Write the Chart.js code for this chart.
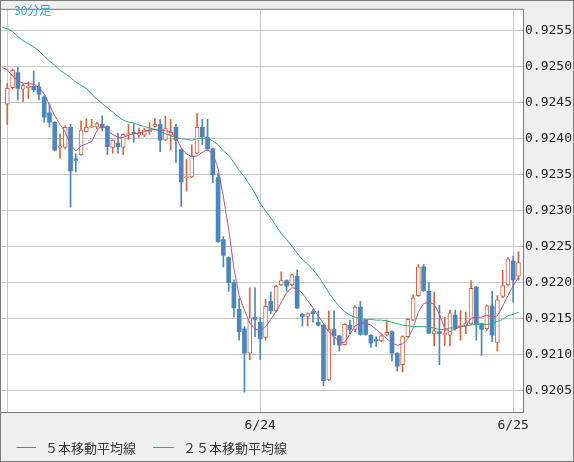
<!DOCTYPE html>
<html><head><meta charset="utf-8">
<script src="https://cdn.jsdelivr.net/npm/chart.js@4"></script>
<style>html,body{margin:0;padding:0;background:#efefef;overflow:hidden}canvas{display:block}</style>
</head><body>
<canvas id="c" width="574" height="462"></canvas>
<script>
// ---- data (30-minute candles, index 0 = 6/23 00:00) ----
const opens = [
0.92448,0.92471,0.92492,0.92469,0.92471,0.92473,0.92472,0.92458,0.92436,0.92423,
0.92388,0.92388,0.92416,0.92372,0.92378,0.92410,0.92416,0.92416,0.92420,0.92417,
0.92388,0.92394,0.92388,0.92405,0.92409,0.92405,0.92405,0.92410,0.92417,0.92420,
0.92398,0.92405,0.92416,0.92385,0.92346,0.92347,0.92380,0.92416,0.92402,0.92386,
0.92346,0.92260,0.92235,0.92200,0.92163,0.92136,0.92102,0.92152,0.92145,0.92124,
0.92174,0.92161,0.92197,0.92203,0.92197,0.92209,0.92156,0.92153,0.92160,0.92145,
0.92141,0.92065,0.92135,0.92126,0.92114,0.92141,0.92135,0.92166,0.92148,0.92127,
0.92121,0.92119,0.92127,0.92132,0.92102,0.92086,0.92125,0.92148,0.92182,0.92222,
0.92188,0.92129,0.92132,0.92128,0.92127,0.92155,0.92139,0.92140,0.92143,0.92194,
0.92143,0.92136,0.92168,0.92117,0.92181,0.92197,0.92230,0.92209];
const highs = [
0.92477,0.92497,0.92499,0.92476,0.92479,0.92494,0.92478,0.92460,0.92449,0.92424,
0.92407,0.92418,0.92420,0.92379,0.92425,0.92428,0.92427,0.92423,0.92432,0.92418,
0.92399,0.92408,0.92407,0.92420,0.92421,0.92415,0.92415,0.92422,0.92428,0.92427,
0.92431,0.92427,0.92420,0.92386,0.92371,0.92392,0.92435,0.92427,0.92427,0.92387,
0.92352,0.92264,0.92236,0.92204,0.92178,0.92139,0.92193,0.92193,0.92152,0.92177,
0.92187,0.92196,0.92215,0.92204,0.92212,0.92218,0.92157,0.92158,0.92163,0.92161,
0.92142,0.92161,0.92161,0.92127,0.92143,0.92148,0.92168,0.92174,0.92149,0.92128,
0.92125,0.92129,0.92148,0.92133,0.92103,0.92126,0.92150,0.92183,0.92225,0.92225,
0.92200,0.92187,0.92169,0.92152,0.92162,0.92162,0.92161,0.92159,0.92203,0.92195,
0.92144,0.92169,0.92188,0.92182,0.92217,0.92235,0.92237,0.92243];
const lows = [
0.92420,0.92469,0.92454,0.92452,0.92456,0.92465,0.92454,0.92423,0.92416,0.92383,
0.92373,0.92386,0.92305,0.92354,0.92377,0.92409,0.92415,0.92414,0.92411,0.92378,
0.92380,0.92380,0.92378,0.92399,0.92395,0.92402,0.92403,0.92406,0.92416,0.92382,
0.92397,0.92384,0.92367,0.92306,0.92327,0.92346,0.92379,0.92392,0.92383,0.92339,
0.92256,0.92222,0.92188,0.92152,0.92120,0.92048,0.92093,0.92125,0.92093,0.92120,
0.92157,0.92159,0.92196,0.92188,0.92195,0.92164,0.92140,0.92140,0.92145,0.92140,
0.92057,0.92064,0.92114,0.92105,0.92113,0.92129,0.92132,0.92127,0.92127,0.92110,
0.92111,0.92118,0.92126,0.92091,0.92077,0.92076,0.92124,0.92147,0.92181,0.92188,
0.92129,0.92112,0.92086,0.92112,0.92112,0.92134,0.92120,0.92129,0.92142,0.92120,
0.92099,0.92134,0.92118,0.92105,0.92179,0.92195,0.92173,0.92204];
const closes = [
0.92470,0.92495,0.92470,0.92474,0.92473,0.92468,0.92462,0.92430,0.92423,0.92384,
0.92389,0.92416,0.92355,0.92370,0.92412,0.92416,0.92418,0.92421,0.92415,0.92389,
0.92398,0.92389,0.92406,0.92407,0.92407,0.92408,0.92412,0.92412,0.92420,0.92398,
0.92414,0.92409,0.92398,0.92340,0.92347,0.92376,0.92416,0.92403,0.92386,0.92350,
0.92257,0.92238,0.92200,0.92165,0.92132,0.92102,0.92151,0.92149,0.92122,0.92167,
0.92161,0.92195,0.92203,0.92195,0.92211,0.92165,0.92153,0.92157,0.92157,0.92141,
0.92064,0.92135,0.92126,0.92113,0.92142,0.92135,0.92166,0.92128,0.92128,0.92116,
0.92119,0.92126,0.92131,0.92102,0.92084,0.92125,0.92149,0.92179,0.92222,0.92189,
0.92130,0.92133,0.92129,0.92129,0.92158,0.92136,0.92140,0.92144,0.92192,0.92143,
0.92135,0.92168,0.92127,0.92176,0.92196,0.92233,0.92204,0.92228];
// moving averages, first value belongs to index -1 (previous bar)
const maStart = -1;
const ma5 = [0.92499,
0.92496,0.92487,0.92481,0.92477,0.92477,0.92476,0.92471,0.92462,0.92447,0.92432,
0.92420,0.92409,0.92392,0.92383,0.92390,0.92393,0.92396,0.92411,0.92420,0.92411,
0.92406,0.92402,0.92402,0.92405,0.92407,0.92408,0.92410,0.92412,0.92413,0.92412,
0.92411,0.92410,0.92402,0.92387,0.92379,0.92375,0.92376,0.92381,0.92385,0.92379,
0.92359,0.92319,0.92275,0.92220,0.92182,0.92162,0.92144,0.92136,0.92133,0.92139,
0.92149,0.92160,0.92173,0.92186,0.92193,0.92192,0.92185,0.92175,0.92165,0.92154,
0.92143,0.92132,0.92126,0.92117,0.92117,0.92128,0.92140,0.92144,0.92144,0.92141,
0.92135,0.92129,0.92122,0.92116,0.92113,0.92115,0.92122,0.92137,0.92159,0.92171,
0.92173,0.92170,0.92156,0.92137,0.92132,0.92136,0.92139,0.92140,0.92151,0.92152,
0.92152,0.92155,0.92152,0.92154,0.92167,0.92182,0.92196,0.92207];
const ma25 = [0.92555,
0.92553,0.92549,0.92542,0.92536,0.92532,0.92528,0.92522,0.92515,0.92508,0.92502,
0.92495,0.92490,0.92485,0.92479,0.92474,0.92470,0.92462,0.92455,0.92449,0.92443,
0.92437,0.92431,0.92426,0.92423,0.92422,0.92419,0.92417,0.92415,0.92413,0.92410,
0.92407,0.92404,0.92402,0.92400,0.92399,0.92398,0.92400,0.92401,0.92401,0.92397,
0.92392,0.92383,0.92377,0.92367,0.92356,0.92347,0.92336,0.92324,0.92310,0.92300,
0.92290,0.92279,0.92268,0.92260,0.92251,0.92241,0.92232,0.92226,0.92218,0.92209,
0.92198,0.92186,0.92176,0.92167,0.92160,0.92155,0.92152,0.92150,0.92149,0.92149,
0.92148,0.92148,0.92147,0.92145,0.92143,0.92141,0.92140,0.92139,0.92139,0.92139,
0.92138,0.92137,0.92135,0.92135,0.92137,0.92137,0.92139,0.92140,0.92141,0.92142,
0.92142,0.92142,0.92143,0.92146,0.92149,0.92154,0.92156,0.92159];
const dayTicks = [0, 48, 96];
const dayLabels = ['', '6/24', '6/25'];
const priceTicks = [0.9205,0.9210,0.9215,0.9220,0.9225,0.9230,0.9235,0.9240,0.9245,0.9250,0.9255];
const seriesNames = ['５本移動平均線', '２５本移動平均線'];
const chartTitle = '30分足';

// ---- styles ----
const UP = '#d9643f', DOWN = '#4b87bf', MA5C = '#b3588a', MA25C = '#2eae78';
const GRID = '#c8c8c8', FRAME = '#7a7a7a';

const isUp = opens.map((o, i) => closes[i] >= o);
const wickData = opens.map((o, i) => ({x: i, y: [lows[i], highs[i]]}));
const bodyData = opens.map((o, i) => ({x: i, y: [Math.min(o, closes[i]), Math.max(o, closes[i])]}));
const ma5Data = ma5.map((v, k) => ({x: k + maStart, y: v}));
const ma25Data = ma25.map((v, k) => ({x: k + maStart, y: v}));

const deco = {
  id: 'deco',
  beforeDraw(chart) {
    const {ctx, chartArea: a} = chart;
    ctx.save();
    ctx.fillStyle = '#efefef';
    ctx.fillRect(0, 0, chart.width, chart.height);
    ctx.fillStyle = '#ffffff';
    ctx.fillRect(a.left, a.top, a.right - a.left, a.bottom - a.top);
    ctx.restore();
  },
  afterDraw(chart) {
    const {ctx, chartArea: a} = chart;
    ctx.save();
    ctx.strokeStyle = FRAME;
    ctx.lineWidth = 1;
    ctx.strokeRect(a.left - 0.5, a.top - 0.5, a.right - a.left + 1, a.bottom - a.top + 1);
    ctx.strokeRect(0.5, 0.5, chart.width - 1, chart.height - 1);
    // title
    ctx.fillStyle = '#2ea8e2';
    ctx.font = '12px "Noto Sans CJK JP"';
    ctx.textBaseline = 'middle';
    ctx.textAlign = 'left';
    ctx.fillText(chartTitle, 14, 10);
    // legend
    const items = [[MA5C, 16.5, 36, 45], [MA25C, 153, 174, 183]];
    ctx.font = '13px "Noto Sans CJK JP"';
    items.forEach((it, k) => {
      ctx.strokeStyle = it[0];
      ctx.beginPath(); ctx.moveTo(it[1], 447.5); ctx.lineTo(it[2], 447.5); ctx.stroke();
      ctx.fillStyle = '#333';
      ctx.fillText(seriesNames[k], it[3], 448.5);
    });
    ctx.restore();
  }
};

new Chart(document.getElementById('c'), {
  type: 'bar',
  data: {
    datasets: [
      {type: 'line', data: ma5Data, borderColor: MA5C, borderWidth: 1, pointRadius: 0, tension: 0, order: 0, clip: 0},
      {type: 'line', data: ma25Data, borderColor: MA25C, borderWidth: 1, pointRadius: 0, tension: 0, order: 0, clip: 0},
      {data: bodyData, barThickness: 4, grouped: false, minBarLength: 1, borderSkipped: false,
       backgroundColor: isUp.map(u => u ? '#ffffff' : DOWN),
       borderColor: isUp.map(u => u ? UP : DOWN),
       borderWidth: isUp.map(u => u ? 1 : 0), order: 1},
      {data: wickData, barThickness: 1, grouped: false, borderWidth: 0,
       backgroundColor: isUp.map(u => u ? UP : DOWN), order: 2}
    ]
  },
  options: {
    responsive: false, animation: false, devicePixelRatio: 1, events: [],
    layout: {padding: {left: 1, top: 1, right: 1, bottom: 1}},
    plugins: {legend: {display: false}, tooltip: {enabled: false}},
    scales: {
      x: {
        type: 'linear', min: -1.2, max: 97.86, offset: false,
        grid: {color: GRID, drawTicks: false, offset: false},
        border: {display: false},
        afterBuildTicks: s => { s.ticks = dayTicks.map(v => ({value: v})); },
        afterFit: s => { s.height = 49; },
        ticks: {autoSkip: false, maxRotation: 0, padding: 6, color: '#222',
          font: {family: 'DejaVu Sans Mono', size: 13},
          callback: v => { const k = dayTicks.indexOf(v); return k >= 0 ? dayLabels[k] : ''; }}
      },
      y: {
        position: 'right', min: 0.920203, max: 0.925792,
        grid: {color: GRID, drawTicks: false},
        border: {display: false},
        afterBuildTicks: s => { s.ticks = priceTicks.map(v => ({value: v})); },
        afterFit: s => { s.width = 50; },
        ticks: {padding: 2, color: '#222', font: {family: 'DejaVu Sans Mono', size: 13},
          callback: v => Number(v).toFixed(4)}
      }
    }
  },
  plugins: [deco]
});
</script>
</body></html>
